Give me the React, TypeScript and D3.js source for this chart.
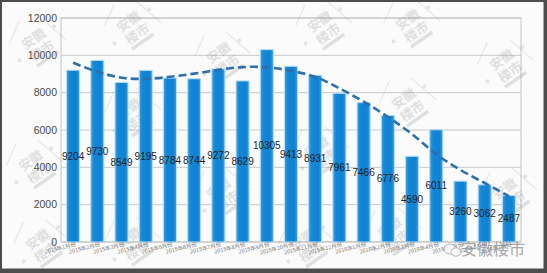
import React from "react";
import * as d3 from "d3";

const categories = [
  "2015年1月份", "2015年2月份", "2015年3月份", "2015年4月份", "2015年5月份",
  "2015年6月份", "2015年7月份", "2015年8月份", "2015年9月份", "2015年10月份",
  "2015年11月份", "2015年12月份", "2016年1月份", "2016年2月份", "2016年3月份",
  "2016年4月份", "2016年5月份", "2016年6月份", "2016年7月份",
];
const values = [9204, 9730, 8549, 9195, 8784, 8744, 9272, 8629, 10305, 9413, 8931, 7961, 7466, 6776, 4590, 6011, 3260, 3062, 2487];
const trend = [9600, 9120, 8800, 8740, 8850, 9020, 9220, 9370, 9360, 9170, 8850, 8230, 7520, 6700, 5780, 4700, 3860, 3160, 2460];
const yTicks = [0, 2000, 4000, 6000, 8000, 10000, 12000];
const watermarkPos: [number, number][] = [
  [38, 45], [133, 28], [223, 59], [324, 28], [412, 26], [506, 66],
  [35, 167], [133, 115], [223, 195], [321, 153], [408, 105], [509, 195],
  [42, 246], [133, 244], [307, 246], [394, 234],
];

const W = 547, H = 273;
const L = 61, R = 521, T = 18, B = 242;

export default function App() {
  const x = d3.scaleBand<string>().domain(categories).range([L, R]).paddingInner(0.46).paddingOuter(0.23);
  const y = d3.scaleLinear().domain([0, 12000]).range([B, T]);
  const line = d3.line<number>()
    .x((_, i) => (x(categories[i]) as number) + x.bandwidth() / 2)
    .y((d) => y(d))
    .curve(d3.curveCatmullRom.alpha(0.5));
  const font = "'Liberation Sans', Arial, sans-serif";
  return (
    <svg width={W} height={H} style={{ position: "absolute", left: 0, top: 0, display: "block" }}>
      <defs>
        <linearGradient id="barg" x1="0" x2="1" y1="0" y2="0">
          <stop offset="0" stopColor="#3a9fe3" />
          <stop offset="0.25" stopColor="#1387d6" />
          <stop offset="0.75" stopColor="#0f82d2" />
          <stop offset="1" stopColor="#3a9fe3" />
        </linearGradient>
      </defs>
      <rect x={0} y={0} width={W} height={H} fill="#fbfbfb" />
      {yTicks.map((t) => (
        <line key={t} x1={L} x2={R} y1={y(t)} y2={y(t)} stroke="#c8c8c8" strokeWidth={1} />
      ))}
      <rect x={L} y={T} width={R - L} height={B - T} fill="none" stroke="#c4c4c4" strokeWidth={1} />
      {yTicks.map((t) => (
        <text key={t} x={57} y={y(t) + 3.8} textAnchor="end" fontFamily={font} fontSize={10.5} fill="#4a4a4a">{t}</text>
      ))}
      {watermarkPos.map(([wx, wy], i) => (
        <g key={i} transform={`translate(${wx},${wy}) rotate(-35)`} opacity={0.24}>
          <path d="M-22,-18 L-2,-30 M18,-20 L26,12" stroke="#9a9a9a" strokeWidth={1} fill="none" />
          <text x={0} y={-3} textAnchor="middle" fontFamily="'Noto Sans CJK SC'" fontSize={13} fontWeight={700} fill="#8a8a8a">安徽</text>
          <text x={0} y={12} textAnchor="middle" fontFamily="'Noto Sans CJK SC'" fontSize={13} fontWeight={700} fill="#8a8a8a">楼市</text>
          <rect x={-13} y={15} width={26} height={3.5} fill="#8a8a8a" />
          <circle cx={-24} cy={2} r={2} fill="#9a9a9a" />
          <circle cx={24} cy={-6} r={2} fill="#9a9a9a" />
        </g>
      ))}
      {values.map((v, i) => (
        <rect key={i} x={x(categories[i])} y={y(v)} width={x.bandwidth()} height={B - y(v)}
          fill="url(#barg)" stroke="#b8dcf5" strokeWidth={1} />
      ))}
      <path d={line(trend) || ""} fill="none" stroke="#2d6fa8" strokeWidth={2.6} strokeDasharray="8,4" strokeLinecap="butt" />
      {values.map((v, i) => (
        <text key={i} x={(x(categories[i]) as number) + x.bandwidth() / 2} y={y(v / 2) + 3.5}
          textAnchor="middle" fontFamily={font} fontSize={10} fill="#1e1e1e">{v}</text>
      ))}
      {categories.map((c, i) => {
        const cx = (x(categories[i]) as number) + x.bandwidth() / 2;
        return (
          <text key={c} transform={`translate(${cx + 3},${246}) rotate(-14)`} textAnchor="end"
            fontFamily="'Noto Sans CJK SC'" fontSize={5.5} fill="#777">{c}</text>
        );
      })}
      <g opacity={0.75}>
        <ellipse cx={450} cy={249} rx={6} ry={5} fill="#fff" stroke="#999" strokeWidth={1} />
        <ellipse cx={456} cy={252} rx={5} ry={4.2} fill="#fff" stroke="#999" strokeWidth={1} />
        <text x={461} y={255} fontFamily="'Noto Sans CJK SC'" fontSize={16} fill="#8c8c8c">安徽楼市</text>
      </g>
      <rect x={1} y={1} width={W - 3.5} height={H - 4.5} fill="none" stroke="#4d4d4d" strokeWidth={2} />
      <rect x={0} y={H - 4} width={W} height={4} fill="#4d4d4d" />
      <rect x={W - 3} y={0} width={3} height={H} fill="#4d4d4d" />
    </svg>
  );
}
